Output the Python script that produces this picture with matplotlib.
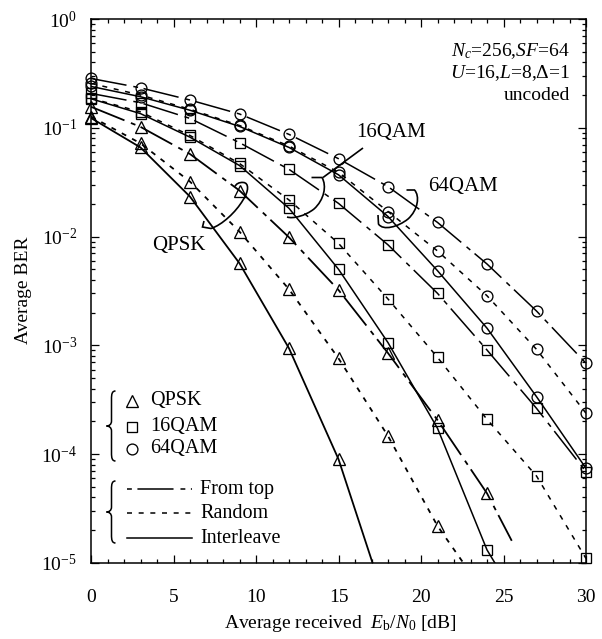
import numpy as np
import matplotlib
matplotlib.use('Agg')
import matplotlib.pyplot as plt
from matplotlib.path import Path
from matplotlib.patches import PathPatch
from matplotlib.ticker import MultipleLocator, LogLocator, NullFormatter, LogFormatterMathtext

plt.rcParams['font.family'] = ['Liberation Serif', 'DejaVu Serif']
plt.rcParams['mathtext.fontset'] = 'custom'
plt.rcParams['mathtext.rm'] = 'Liberation Serif'
plt.rcParams['mathtext.it'] = 'Liberation Serif:italic'
plt.rcParams['mathtext.bf'] = 'Liberation Serif:bold'
plt.rcParams['lines.scale_dashes'] = False

# ---------------- data ----------------
snr_db = [0, 3, 6, 9, 12, 15, 18, 21, 24, 27, 30]
nan = np.nan

qpsk_fromtop   = [0.156, 0.102, 0.0574, 0.0265, 0.00985, 0.00323, 8.5e-4, 2.06e-4, 4.37e-5, nan, nan]
qpsk_random    = [0.127, 0.072, 0.032, 0.0111, 0.00328, 7.6e-4, 1.47e-4, 2.19e-5, nan, nan, nan]
qpsk_interleave = [0.123, 0.066, 0.0233, 0.00568, 9.4e-4, 9.0e-5, nan, nan, nan, nan, nan]

qam16_fromtop   = [0.207, 0.170, 0.122, 0.073, 0.0415, 0.0202, 0.0084, 0.00301, 9.07e-4, 2.64e-4, 6.9e-5]
qam16_random    = [0.187, 0.140, 0.085, 0.047, 0.0217, 0.00867, 0.00267, 7.76e-4, 2.09e-4, 6.3e-5, 1.1e-5]
qam16_interleave = [0.185, 0.135, 0.082, 0.045, 0.0182, 0.00501, 0.00106, 1.73e-4, 1.32e-5, nan, nan]

qam64_fromtop   = [0.284, 0.233, 0.180, 0.134, 0.087, 0.052, 0.0288, 0.0135, 0.0056, 0.00207, 6.85e-4]
qam64_random    = [0.256, 0.200, 0.148, 0.105, 0.068, 0.039, 0.017, 0.00738, 0.00286, 9.2e-4, 2.38e-4]
qam64_interleave = [0.240, 0.193, 0.145, 0.103, 0.066, 0.037, 0.0153, 0.00486, 0.00144, 3.38e-4, 7.42e-5]

# where curves continue past the last simulated point (x, BER)
qpsk_fromtop_tail = (25.5, 1.6e-5)
qpsk_random_tail = (24.0, 4.9e-6)
qpsk_interleave_tail = (18.0, 3.7e-6)
qam16_interleave_tail = (25.0, 7.4e-6)

mod_names = ['QPSK', '16QAM', '64QAM']
scheme_names = ['From top', 'Random', 'Interleave']
x_ticks = [0, 5, 10, 15, 20, 25, 30]

# ---------------- styles ----------------
markers = {'QPSK': '^', '16QAM': 's', '64QAM': 'o'}
msizes = {'QPSK': 8.5, '16QAM': 7.5, '64QAM': 7.8}
dashes = {'From top': (0, (26, 5, 3.5, 4)),
          'Random': (0, (3.6, 4.8)),
          'Interleave': '-'}

fig = plt.figure(figsize=(6.02, 6.39), dpi=100)
W, H = 602, 639
ax_l, ax_r, ax_t, ax_b = 91, 586, 19, 563
ax = fig.add_axes([ax_l / W, (H - ax_b) / H, (ax_r - ax_l) / W, (ax_b - ax_t) / H])

def fx(px):
    return (px - ax_l) / (ax_r - ax_l)

def fy(py):
    return (ax_b - py) / (ax_b - ax_t)

series = [
    ('QPSK', 'From top', qpsk_fromtop, qpsk_fromtop_tail),
    ('QPSK', 'Random', qpsk_random, qpsk_random_tail),
    ('QPSK', 'Interleave', qpsk_interleave, qpsk_interleave_tail),
    ('16QAM', 'From top', qam16_fromtop, None),
    ('16QAM', 'Random', qam16_random, None),
    ('16QAM', 'Interleave', qam16_interleave, qam16_interleave_tail),
    ('64QAM', 'From top', qam64_fromtop, None),
    ('64QAM', 'Random', qam64_random, None),
    ('64QAM', 'Interleave', qam64_interleave, None),
]

for mod, sch, vals, tail in series:
    xs = np.array(snr_db, float)
    ys = np.array(vals, float)
    ok = ~np.isnan(ys)
    lx, ly = list(xs[ok]), list(ys[ok])
    if tail is not None:
        lx.append(tail[0]); ly.append(tail[1])
    lw = 1.3 if mod == 'QPSK' else 1.1
    ax.plot(lx, ly, color='black', lw=lw, linestyle=dashes[sch], zorder=2)
    ax.plot(xs[ok], ys[ok], linestyle='none', marker=markers[mod], ms=msizes[mod],
            mfc='none', mec='black', mew=0.95, clip_on=False, zorder=3)

ax.set_yscale('log')
ax.set_xlim(0, 30)
ax.set_ylim(1e-5, 1)
ax.set_xticks(x_ticks)
ax.set_xticklabels([str(t) for t in x_ticks])
ax.xaxis.set_minor_locator(MultipleLocator(1))
ax.yaxis.set_major_locator(LogLocator(base=10, numticks=10))
ax.yaxis.set_minor_locator(LogLocator(base=10, subs=np.arange(2, 10), numticks=20))
ax.yaxis.set_major_formatter(LogFormatterMathtext())
ax.yaxis.set_minor_formatter(NullFormatter())
ax.tick_params(which='both', direction='in', top=True, right=True, width=0.9, labelsize=14)
ax.tick_params(which='major', length=6)
ax.tick_params(which='minor', length=3)
ax.tick_params(axis='x', which='major', pad=19)
ax.tick_params(axis='y', which='major', pad=10)
for s in ax.spines.values():
    s.set_linewidth(1.1)

fig.text(24 / W, 1 - 290 / H, 'Average BER', rotation=90, ha='center', va='center', fontsize=14)
fig.text(340 / W, 1 - 624 / H, r'Average received  $E_{\mathrm{b}}/N_{0}$ [dB]', ha='center', va='center', fontsize=14)

# parameter text
ax.text(fx(570), fy(51), r'$N_c$=256,$SF$=64', ha='right', va='center', fontsize=14, transform=ax.transAxes)
ax.text(fx(570), fy(73), r'$U$=16,$L$=8,Δ=1', ha='right', va='center', fontsize=14, transform=ax.transAxes)
ax.text(fx(570), fy(95), 'uncoded', ha='right', va='center', fontsize=14, transform=ax.transAxes)

# ---------------- annotation curves ----------------
def draw_path(pts_codes, **kw):
    verts = [(fx(p[0]), fy(p[1])) for p, c in pts_codes]
    codes = [c for p, c in pts_codes]
    patch = PathPatch(Path(verts, codes), facecolor='none', edgecolor='black',
                      lw=kw.get('lw', 1.2), transform=ax.transAxes, clip_on=False)
    ax.add_patch(patch)

M, L, C = Path.MOVETO, Path.LINETO, Path.CURVE4
# QPSK loop
draw_path([((204, 221), M), ((202.5, 227), L), ((211, 228.5), L),
           ((222, 225), C), ((236, 212), C), ((243, 200), C),
           ((249, 191), C), ((249, 183), C), ((243.5, 182.5), C),
           ((239, 182), C), ((236, 184), C), ((235, 186.5), C)])
ax.text(fx(179), fy(245.5), 'QPSK', ha='center', va='center', fontsize=15, transform=ax.transAxes)
# 16QAM loop + leader
draw_path([((311.5, 177.5), M), ((322, 177.5), L),
           ((327, 186), C), ((324, 200), C), ((314, 209), C),
           ((305, 216), C), ((293, 219), C), ((287, 217), C)])
draw_path([((323, 177.5), M), ((363, 148), L)])
ax.text(fx(356), fy(133), '16QAM', ha='left', va='center', fontsize=15, transform=ax.transAxes)
# 64QAM loop
draw_path([((406.5, 190), M), ((414.5, 190), L),
           ((420, 196), C), ((418, 210), C), ((408, 219), C),
           ((398, 227), C), ((383, 231), C), ((378.5, 224), C),
           ((378, 215), L)])
ax.text(fx(428), fy(186), '64QAM', ha='left', va='center', fontsize=15, transform=ax.transAxes)

# ---------------- custom legends ----------------
def brace(top, bot, xr=115.5, xm=111.5, xt=106.5):
    mid = (top + bot) / 2
    draw_path([((xr, top), M), ((xm + 0.5, top), C), ((xm, top + 3), C), ((xm, top + 8), C),
               ((xm, mid - 5), L), ((xm, mid - 1.5), C), ((xt + 2.5, mid), C), ((xt, mid), C),
               ((xt + 2.5, mid), C), ((xm, mid + 1.5), C), ((xm, mid + 5), C),
               ((xm, bot - 8), L), ((xm, bot - 3), C), ((xm + 0.5, bot), C), ((xr, bot), C)], lw=1.1)

brace(391, 461)
leg_marker_y = [401, 426.7, 449]
for mod, yy in zip(mod_names, leg_marker_y):
    ax.plot([fx(131.7)], [fy(yy)], marker=markers[mod], ms=msizes[mod], mfc='none', mec='black',
            mew=0.95, transform=ax.transAxes, clip_on=False)
    ax.text(fx(150), fy(yy), mod, ha='left', va='center', fontsize=14.5, transform=ax.transAxes)

brace(481, 543)
leg_line_y = [489.3, 513.3, 538.3]
for sch, yy in zip(scheme_names, leg_line_y):
    ls = dashes[sch]
    if sch == 'From top':
        ls = (31, (26, 5, 3.5, 4))
    ax.plot([fx(127), fx(192)], [fy(yy), fy(yy)], color='black', lw=1.1, linestyle=ls,
            transform=ax.transAxes, clip_on=False)
    ax.text(fx(200), fy(yy), sch, ha='left', va='center', fontsize=14.5, transform=ax.transAxes)

fig.savefig('out.png', dpi=100)
